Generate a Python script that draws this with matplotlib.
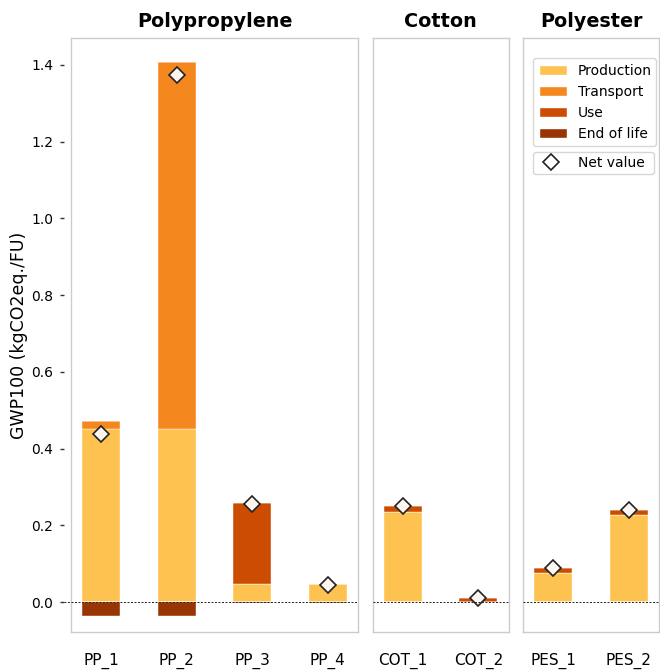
import numpy as np
import matplotlib.pyplot as plt
from matplotlib.patches import Patch
from matplotlib.lines import Line2D
from matplotlib.path import Path

groups = ["Polypropylene", "Cotton", "Polyester"]
labels = [["PP_1", "PP_2", "PP_3", "PP_4"], ["COT_1", "COT_2"], ["PES_1", "PES_2"]]

stages = ["Production", "Transport", "Use", "End of life"]
production = [[0.451, 0.451, 0.047, 0.047], [0.235, 0.0], [0.075, 0.226]]
transport = [[0.021, 0.957, 0.0, 0.0], [0.0, 0.0], [0.0, 0.0]]
use = [[0.0, 0.0, 0.211, 0.0], [0.015, 0.011], [0.013, 0.014]]
end_of_life = [[-0.036, -0.036, -0.003, -0.003], [0.0, 0.0], [0.0, 0.0]]
net = [[0.437, 1.373, 0.255, 0.044], [0.250, 0.011], [0.089, 0.240]]

colors = ["#fec250", "#f5871f", "#cc4c02", "#993404"]

fig, axes = plt.subplots(
    1, 3, figsize=(6.6, 6.72), dpi=100, sharey=True,
    gridspec_kw={"width_ratios": [3.8, 1.8, 1.8], "wspace": 0.078},
)
fig.subplots_adjust(left=0.1076, right=0.9985, top=0.9435, bottom=0.0595)

for i, ax in enumerate(axes):
    x = np.arange(len(labels[i]))
    pos_bottom = np.zeros(len(x))
    for name, data, c in zip(stages, [production, transport, use, end_of_life], colors):
        vals = np.array(data[i])
        pos = np.where(vals > 0, vals, 0)
        neg = np.where(vals < 0, vals, 0)
        ax.bar(x, pos, 0.5, bottom=pos_bottom, color=c, edgecolor="white", linewidth=0.3)
        ax.bar(x, neg, 0.5, color=c, edgecolor="white", linewidth=0.3)
        pos_bottom += pos
    ax.plot(x, net[i], "D", ms=8, mfc="#fdf6f0", mec="#222222", mew=1.2, zorder=5)
    x0 = -0.025 if i == 0 else 0
    ax.plot([x0, 1], [0, 0], transform=ax.get_yaxis_transform(), clip_on=False,
            color="#222222", lw=0.7, ls=(0, (2, 1.6)), zorder=6)
    ax.set_xlim(-0.4, len(x) - 0.6)
    ax.set_xticks(x)
    ax.set_xticklabels(labels[i], fontsize=11)
    ax.tick_params(axis="x", length=0, pad=15)
    ax.set_title(groups[i], fontsize=13.8, fontweight="bold", pad=8)
    for s in ax.spines.values():
        s.set_color("#cccccc")
        s.set_linewidth(1.0)
    if i > 0:
        ax.tick_params(axis="y", left=False)

axes[0].set_ylim(-0.078, 1.47)
axes[0].set_yticks([0.0, 0.2, 0.4, 0.6, 0.8, 1.0, 1.2, 1.4])
axes[0].tick_params(axis="y", labelsize=10, length=3, color="#333333", pad=10)
axes[0].set_ylabel("GWP100 (kgCO2eq./FU)", fontsize=12.5, labelpad=2)

handles = [Patch(facecolor=c, edgecolor="white", label=s) for s, c in zip(stages, colors)]
leg1 = axes[2].legend(handles=handles, loc="upper left", bbox_to_anchor=(0.075, 0.966, 0.9, 0),
                      mode="expand", borderaxespad=0, fontsize=10, frameon=True,
                      edgecolor="#cccccc")
axes[2].add_artist(leg1)
net_handle = Line2D([], [], marker="D", ls="none", ms=8, mfc="white", mec="#222222",
                    mew=1.2, label="Net value")
axes[2].legend(handles=[net_handle], loc="upper left", bbox_to_anchor=(0.075, 0.808, 0.885, 0),
               mode="expand", borderaxespad=0, fontsize=10, frameon=True,
               edgecolor="#cccccc", handlelength=2.0, handletextpad=0.95, borderpad=0.3)

# short tick dashes set off from the spine, as in the original
dash = Path([(-1.0, 0.0), (-0.6, 0.0)], [Path.MOVETO, Path.LINETO])
for t in axes[0].yaxis.get_major_ticks():
    t.tick1line.set_marker(dash)
    t.tick1line.set_markersize(16)
    t.tick1line.set_markeredgewidth(1.0)

fig.savefig("out.png", dpi=100)
